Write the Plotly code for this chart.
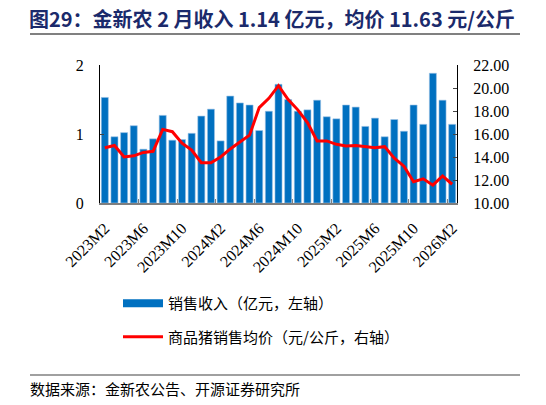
import plotly.graph_objects as go

# monthly data, 2023M2 - 2026M2
months = [f"{y}M{m}" for y, m in
          [(2023, m) for m in range(2, 13)] + [(2024, m) for m in range(1, 13)] +
          [(2025, m) for m in range(1, 13)] + [(2026, m) for m in range(1, 3)]]

# 销售收入（亿元）
revenue = [1.53, 0.96, 1.02, 1.12, 0.78, 0.93, 1.27, 0.91, 0.92, 1.01,
           1.26, 1.36, 0.90, 1.55, 1.45, 1.42, 1.05, 1.33, 1.72, 1.50,
           1.33, 1.35, 1.49, 1.25, 1.22, 1.42, 1.39, 1.11, 1.23, 0.96,
           1.21, 1.04, 1.42, 1.14, 1.88, 1.49, 1.14]

# 商品猪销售均价（元/公斤）
price = [14.8, 15.0, 14.0, 14.1, 14.4, 14.5, 16.4, 16.2, 15.2, 14.6,
         13.5, 13.5, 14.0, 14.7, 15.3, 15.9, 18.3, 19.1, 20.2, 19.0,
         18.1, 17.0, 15.4, 15.4, 15.1, 14.95, 15.0, 14.9, 14.8, 14.9,
         13.9, 13.2, 11.85, 12.1, 11.55, 12.35, 11.63]

tick_labels = months[::4]

serif = "Liberation Serif, Times New Roman, serif"
cjk = "Noto Sans CJK SC"
blue = "#0070C0"
red = "#FF0000"

fig = go.Figure()
fig.add_trace(go.Bar(x=months, y=revenue, name="销售收入（亿元，左轴）",
                     marker=dict(color=blue, line=dict(color="#9DC3E6", width=0.6)),
                     showlegend=False))
# legend entry drawn as a wide blue block like the original
fig.add_trace(go.Scatter(x=[None], y=[None], mode="lines", name="销售收入（亿元，左轴）",
                         line=dict(color=blue, width=8), legendgroup="a"))
fig.add_trace(go.Scatter(x=months, y=price, name="商品猪销售均价（元/公斤，右轴）",
                         mode="lines", line=dict(color=red, width=3),
                         yaxis="y2", legendgroup="b"))

# the page adds an 8px body margin, so work in page pixels minus 8
OFF = 8
W, H = 546 - OFF, 405 - OFF
L, R, T, B = 100 - OFF, 457 - OFF, 65 - OFF, 203 - OFF
pw, ph = R - L, B - T

def px(x):
    return (x - OFF - L) / pw

def py(y):
    return (B - (y - OFF)) / ph

fig.update_layout(
    width=W, height=H,
    margin=dict(l=L, r=W - R, t=T, b=H - B, autoexpand=False),
    plot_bgcolor="white", paper_bgcolor="white",
    bargap=0.27,
    showlegend=True,
    legend=dict(x=px(118), y=py(287), xanchor="left", yanchor="top",
                font=dict(family=cjk, size=15, color="#000000"),
                tracegroupgap=11, itemwidth=40, bgcolor="rgba(0,0,0,0)"),
    xaxis=dict(type="category", tickmode="array", tickvals=tick_labels,
               ticktext=tick_labels, tickangle=-45, tickson="boundaries",
               tickfont=dict(family=serif, size=16, color="#000000"),
               showline=True, linecolor="#7F7F7F", linewidth=1.5,
               ticks="inside", ticklen=4, tickcolor="#7F7F7F",
               ticklabelstandoff=8,
               showgrid=False, zeroline=False),
    yaxis=dict(range=[0, 2], tickvals=[0, 1, 2],
               tickfont=dict(family=serif, size=16, color="#000000"),
               showline=True, linecolor="#000000", linewidth=1,
               ticks="inside", ticklen=4, ticklabelstandoff=12,
               showgrid=False, zeroline=False),
    yaxis2=dict(range=[10, 22], overlaying="y", side="right",
                tickvals=[10, 12, 14, 16, 18, 20, 22], tickformat=".2f",
                tickfont=dict(family=serif, size=16, color="#000000"),
                showline=True, linecolor="#000000", linewidth=1,
                ticks="inside", ticklen=4, ticklabelstandoff=12,
                showgrid=False, zeroline=False),
    shapes=[
        dict(type="line", xref="paper", yref="paper",
             x0=px(30), x1=px(520), y0=py(34), y1=py(34),
             line=dict(color="#808080", width=2)),
        dict(type="line", xref="paper", yref="paper",
             x0=px(30), x1=px(520), y0=py(375), y1=py(375),
             line=dict(color="#808080", width=1.5)),
    ],
    annotations=[
        dict(text="<b>图29：金新农 2 月收入 1.14 亿元，均价 11.63 元/公斤</b>",
             xref="paper", yref="paper", x=px(27), y=py(18),
             xanchor="left", yanchor="middle", showarrow=False,
             font=dict(family=cjk, size=20, color="#1B2A6B")),
        dict(text="数据来源：金新农公告、开源证券研究所", xref="paper", yref="paper",
             x=px(28), y=py(389), xanchor="left", yanchor="middle", showarrow=False,
             font=dict(family=cjk, size=15, color="#000000")),
    ],
)

fig.write_html("out.html")
